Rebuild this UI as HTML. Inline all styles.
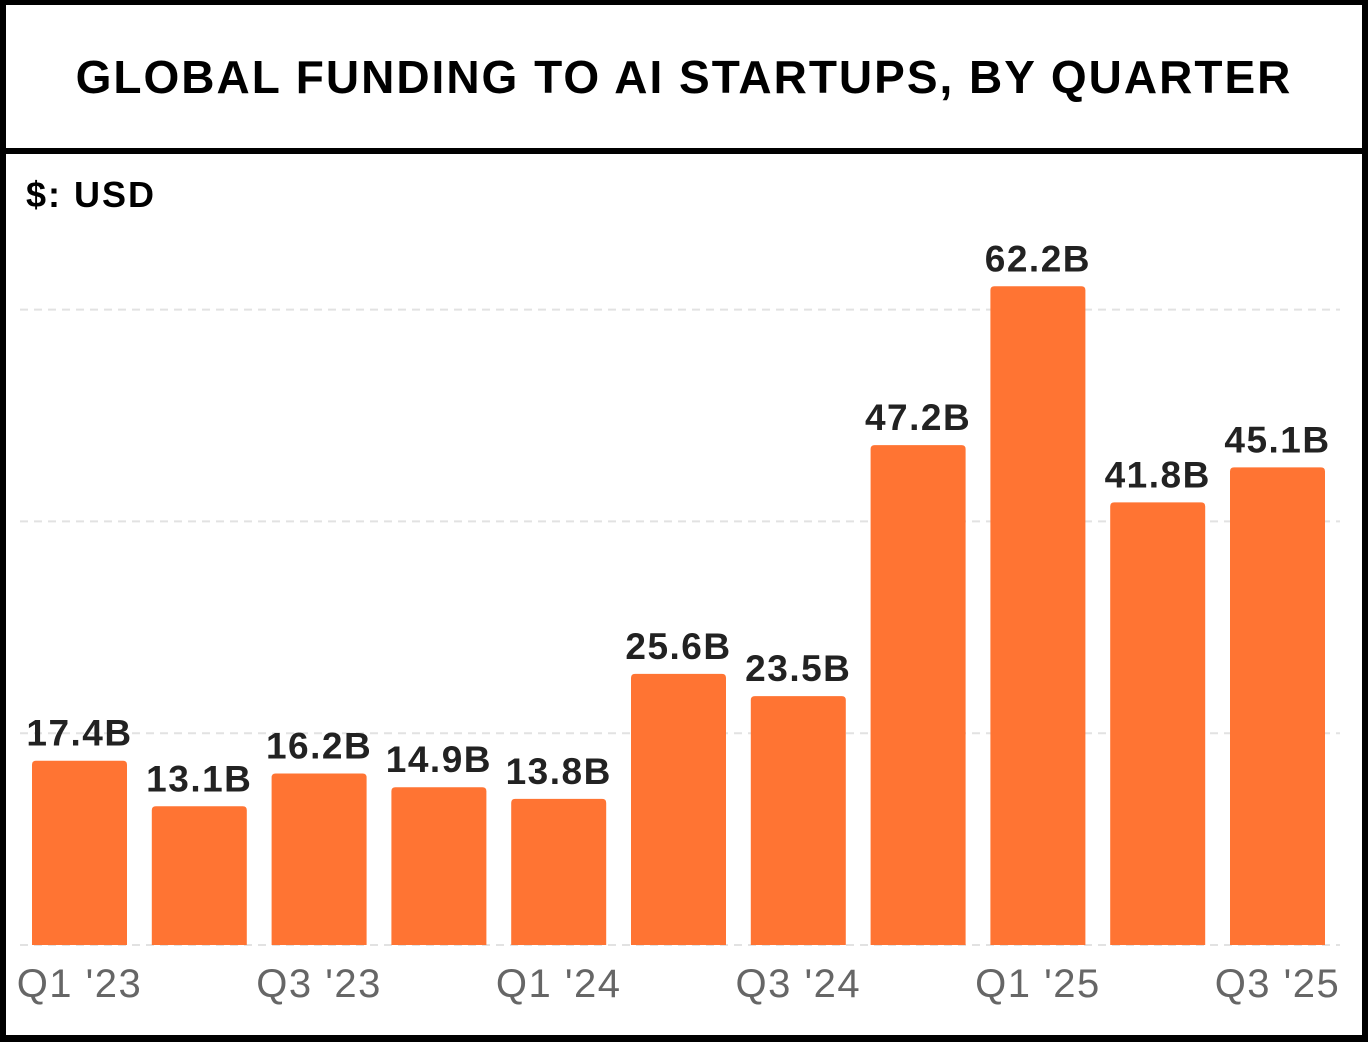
<!DOCTYPE html>
<html><head><meta charset="utf-8"><style>
html,body{margin:0;padding:0;background:#000;}
#wrap{position:relative;width:1368px;height:1042px;background:#000;overflow:hidden;}
#title{position:absolute;left:6px;top:5px;width:1356px;height:143px;background:#fff;display:flex;align-items:center;justify-content:center;font-family:"Liberation Sans",sans-serif;font-weight:bold;font-size:46px;letter-spacing:2px;color:#000;}
#chart{position:absolute;left:6px;top:154px;width:1356px;height:881px;background:#fff;}
</style></head><body>
<div id="wrap">
<div id="title">GLOBAL FUNDING TO AI STARTUPS, BY QUARTER</div>
<div id="chart">
<svg id="svg" width="1356" height="881" xmlns="http://www.w3.org/2000/svg">
<text x="20" y="53" font-family="Liberation Sans, sans-serif" font-weight="bold" font-size="36" letter-spacing="2" fill="#000">$: USD</text>
</svg>
</div>
</div>
<script>
const categories=["Q1 '23","Q2 '23","Q3 '23","Q4 '23","Q1 '24","Q2 '24","Q3 '24","Q4 '24","Q1 '25","Q2 '25","Q3 '25"];
const values=[17.4,13.1,16.2,14.9,13.8,25.6,23.5,47.2,62.2,41.8,45.1];
const valueLabels=["17.4B","13.1B","16.2B","14.9B","13.8B","25.6B","23.5B","47.2B","62.2B","41.8B","45.1B"];
const gridTicks=[0,20,40,60];
const xTickLabels=["Q1 '23","","Q3 '23","","Q1 '24","","Q3 '24","","Q1 '25","","Q3 '25"];
const svg=document.getElementById('svg');
const NS='http://www.w3.org/2000/svg';
const baseY=791, pxPer=10.59, x0=26, pitch=119.8, bw=95;
const y=v=>baseY-v*pxPer;
const x=i=>x0+i*pitch;
function mk(t,a){const e=document.createElementNS(NS,t);for(const k in a)e.setAttribute(k,a[k]);svg.appendChild(e);return e;}
gridTicks.forEach(t=>{
  const g=mk('line',{x1:14,x2:1334,y1:y(t),y2:y(t),stroke:'#e2e2e2','stroke-width':2,'stroke-dasharray':'8,6'});
  
  
});
values.forEach((v,i)=>{
  const r=mk('path',{d:`M${x(i)},${baseY} V${y(v)+4} Q${x(i)},${y(v)} ${x(i)+4},${y(v)} H${x(i)+bw-4} Q${x(i)+bw},${y(v)} ${x(i)+bw},${y(v)+4} V${baseY} Z`,fill:'#FF7433'});
  
  
  const t=mk('text',{x:x(i)+bw/2,y:y(v)-15,'text-anchor':'middle','font-family':'Liberation Sans, sans-serif','font-weight':'bold','font-size':'37','letter-spacing':'1.5',fill:'#222'});
  t.textContent=valueLabels[i];
  
  
  if(xTickLabels[i]){
    const l=mk('text',{x:x(i)+bw/2,y:843,'text-anchor':'middle','font-family':'Liberation Sans, sans-serif','font-size':'40','letter-spacing':'1.5',fill:'#666'});
    l.textContent=xTickLabels[i];
    
    
  }
});
</script>
</body></html>
